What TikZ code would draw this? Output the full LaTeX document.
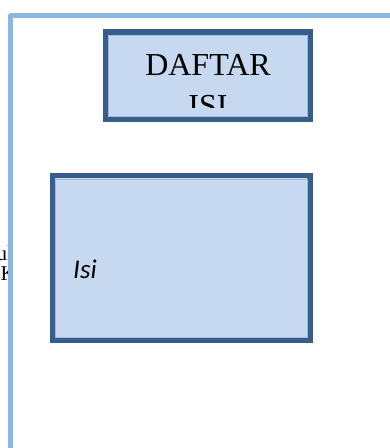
\documentclass[tikz,border=0pt]{standalone}
\usepackage{fontspec}
\setmainfont{Liberation Serif}
\newfontfamily\carlito{Carlito}
\usetikzlibrary{positioning}

\definecolor{framebl}{HTML}{8DB4E2}
\definecolor{boxfill}{HTML}{C6D9F1}
\definecolor{boxline}{HTML}{385D8A}
\definecolor{boxedge}{HTML}{A3BCDD}

\begin{document}
\begin{tikzpicture}[x=1pt, y=-1pt]
	\tikzstyle{box}=[rectangle, draw=boxline, fill=boxfill, line width=5.4pt, inner sep=0pt]
	\tikzstyle{rim}=[draw=boxedge, line width=0.7pt]
	\tikzstyle{frame}=[draw=framebl, line width=5pt, line join=round]
	\useasboundingbox (0,0) rectangle (390,448);

	% text running under the page frame
	\begin{scope}
		\clip (0,235) rectangle (8.6,300);
		\node[anchor=base west, inner sep=0pt, font=\fontsize{21}{25}\selectfont] (t1) at (-3.5,260) {ul};
		\node[anchor=base west, inner sep=0pt, font=\fontsize{21}{25}\selectfont] (t2) at (0.4,280) {K};
	\end{scope}

	% page frame
	\draw[frame] (10.5,460) -- (10.5,15.8) -- (400,15.8);

	\node[box, minimum width=204.5pt, minimum height=87.5pt]  (judul) at (207.85,75.6) {};
	\node[box, minimum width=257.5pt, minimum height=164.5pt] (isi) at (181.4,258) {};
	% thin light line along the inside of the dark border (anchors sit on the outer edge)
	\draw[rim] ([shift={(5.8,5.8)}]judul.north west) rectangle ([shift={(-5.8,-5.8)}]judul.south east);
	\draw[rim] ([shift={(5.8,5.8)}]isi.north west) rectangle ([shift={(-5.8,-5.8)}]isi.south east);

	% title, cut off by the text area
	\begin{scope}
		\clip (108,34) rectangle (308,107);
		\node[anchor=base, inner sep=0pt, align=center, font=\fontsize{32}{41.5}\selectfont] (title) at (208,116.5) {DAFTAR\\ISI};
	\end{scope}

	\node[anchor=base west, inner sep=0pt, font=\carlito\itshape\fontsize{27}{32}\selectfont] (isilabel) at (73,278) {Isi};
\end{tikzpicture}
\end{document}
